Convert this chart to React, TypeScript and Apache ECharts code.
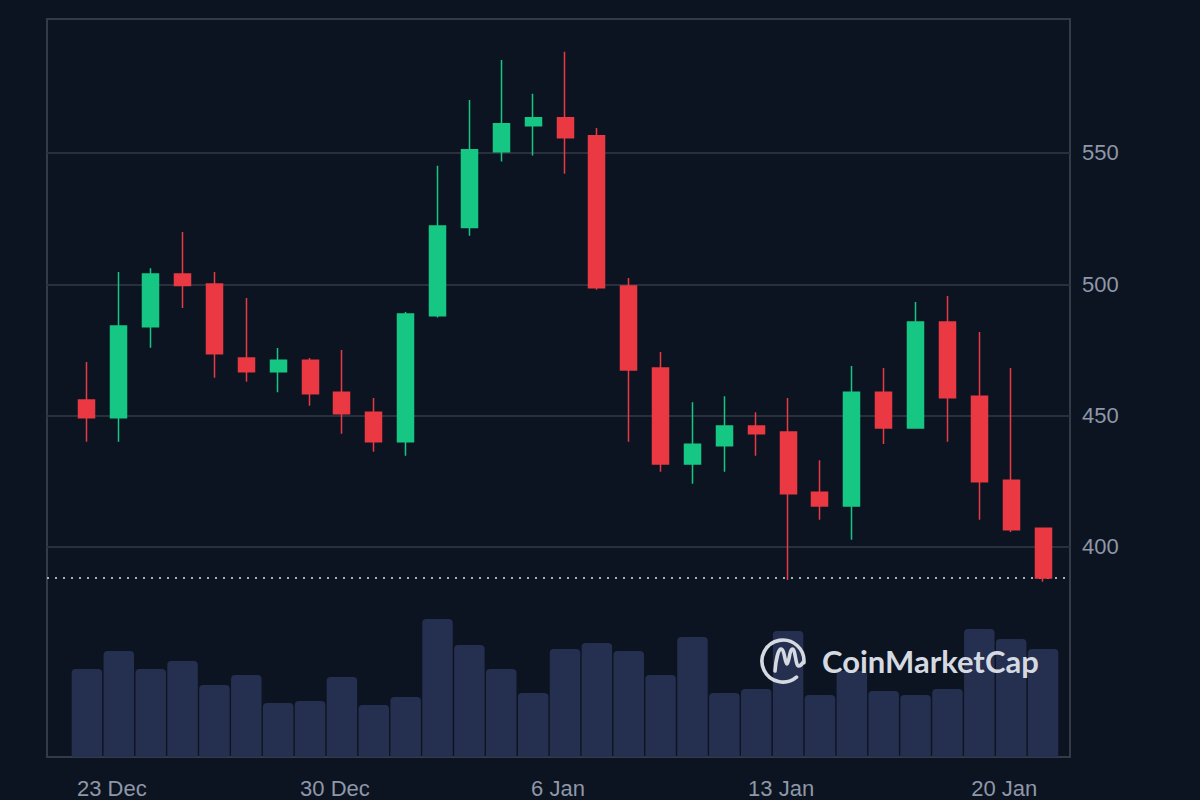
import React, { useEffect, useRef } from "react";
import * as echarts from "echarts";

// ---- data ----
const dates = [
  "22 Dec", "23 Dec", "24 Dec", "25 Dec", "26 Dec", "27 Dec", "28 Dec", "29 Dec", "30 Dec", "31 Dec",
  "1 Jan", "2 Jan", "3 Jan", "4 Jan", "5 Jan", "6 Jan", "7 Jan", "8 Jan", "9 Jan", "10 Jan",
  "11 Jan", "12 Jan", "13 Jan", "14 Jan", "15 Jan", "16 Jan", "17 Jan", "18 Jan", "19 Jan", "20 Jan", "21 Jan",
];
const opens = [
  455.9, 449.2, 483.8, 503.9, 500.1, 471.9, 466.7, 471.1, 458.9, 451.3,
  440.0, 488.0, 521.6, 550.5, 560.4, 563.4, 556.5, 499.3, 468.1, 431.6,
  438.5, 446.0, 443.7, 420.8, 415.6, 458.9, 445.3, 485.6, 457.4, 425.4, 407.1,
];
const closes = [
  449.2, 484.1, 503.9, 499.5, 473.5, 466.7, 471.1, 458.3, 450.7, 440.0,
  488.7, 522.2, 551.2, 561.1, 563.4, 555.8, 498.7, 467.4, 431.6, 439.1,
  446.0, 443.1, 420.2, 415.6, 458.9, 445.3, 485.6, 456.8, 424.8, 406.5, 388.2,
];
const lows = [
  440.0, 440.0, 475.8, 491.0, 464.4, 462.9, 458.9, 453.7, 443.1, 436.2,
  434.7, 487.3, 518.5, 546.7, 549.0, 542.1, 497.9, 440.0, 428.6, 424.0,
  428.6, 434.7, 387.4, 410.3, 402.7, 439.2, 445.3, 440.0, 410.3, 405.7, 386.7,
];
const highs = [
  470.4, 504.7, 506.1, 519.9, 504.7, 494.8, 475.7, 471.9, 475.0, 456.7,
  489.4, 545.1, 570.2, 585.4, 572.5, 588.5, 559.5, 502.4, 474.2, 455.1,
  457.4, 451.3, 456.7, 433.0, 468.9, 468.1, 493.2, 495.5, 481.8, 468.1, 407.1,
];
const volumes = [
  44, 53, 44, 48, 36, 41, 27, 28, 40, 26,
  30, 69, 56, 44, 32, 54, 57, 53, 41, 60,
  32, 34, 63, 31, 43, 33, 31, 34, 64, 59, 54,
];
const priceTicks = [400, 450, 500, 550];
const labelIndices = [1, 8, 15, 22, 29];

// ---- style ----
const BG = "#0b1420";
const GREEN = "#16c784";
const RED = "#ea3943";
const VOL = "#252f4f";
const FRAME = "#343b47";
const GRIDLINE = "#29303b";
const LABEL = "#8f97a8";
const LOGO = "#d5d9e1";
const FONT = "'Liberation Sans', Arial, Helvetica, sans-serif";

const LOGO_PATH =
  "M 13.5 16.1 A 21 21 0 1 1 20.9 1.8 " +
  "M -8 10 C -7 -2 -4.5 -12 -2 -12 C 1.5 -12 2 3 4 3 C 6 3 6.5 -12 9.5 -12 C 12.5 -12 12.5 5 15.5 5 C 18 5 19.5 2.5 20.9 0";

export default function App() {
  const ref = useRef<HTMLDivElement>(null);

  useEffect(() => {
    if (!ref.current) return;
    echarts.graphic.registerShape("cmcLogo", echarts.graphic.extendPath(LOGO_PATH, {}));
    const chart = echarts.init(ref.current, null, { renderer: "svg" });
    const lastClose = closes[closes.length - 1];
    const candleData = dates.map((_, i) => [opens[i], closes[i], lows[i], highs[i]]);

    const option: any = {
      animation: false,
      backgroundColor: BG,
      grid: [
        {
          left: 47, top: 19, width: 1023, height: 738,
          show: true, borderColor: FRAME, borderWidth: 2, backgroundColor: "transparent",
          containLabel: false, outerBoundsMode: "none", z: 0,
        },
        { left: 71, top: 19, width: 988, height: 738, containLabel: false, outerBoundsMode: "none" },
        { left: 71, top: 607, width: 988, height: 150, containLabel: false, outerBoundsMode: "none" },
      ],
      xAxis: [
        { gridIndex: 0, type: "value", min: 0, max: 1, show: false },
        {
          gridIndex: 1, type: "category", data: dates, boundaryGap: true,
          axisLine: { show: false }, axisTick: { show: false }, splitLine: { show: false },
          axisLabel: {
            interval: (i: number) => labelIndices.indexOf(i) >= 0,
            color: LABEL, fontSize: 22, fontFamily: FONT, margin: 20,
            padding: [0, 14, 0, 0], hideOverlap: false,
          },
        },
        { gridIndex: 2, type: "category", data: dates, boundaryGap: true, show: false },
      ],
      yAxis: [
        { gridIndex: 0, type: "value", min: 320, max: 601, show: false, splitLine: { show: false } },
        { gridIndex: 1, type: "value", min: 320, max: 601, show: false, splitLine: { show: false } },
        { gridIndex: 2, type: "value", min: 0, max: 75, show: false, splitLine: { show: false } },
      ],
      series: [
        {
          type: "line", xAxisIndex: 0, yAxisIndex: 0, data: [], silent: true, z: 0,
          markLine: {
            silent: true, symbol: ["none", "none"], animation: false, z: 0,
            data: [
              ...priceTicks.map((v) => ({
                yAxis: v,
                lineStyle: { color: GRIDLINE, width: 2, type: "solid" },
                label: {
                  show: true, position: "end", formatter: String(v),
                  color: LABEL, fontSize: 22, fontFamily: FONT, distance: 12,
                },
              })),
              {
                yAxis: lastClose,
                lineStyle: { color: "#aab0bb", width: 2, type: [2, 6] },
                label: { show: false },
              },
            ],
          },
        },
        {
          type: "bar", xAxisIndex: 2, yAxisIndex: 2, data: volumes, barWidth: 30.5, z: 2,
          itemStyle: { color: VOL, borderRadius: [4, 4, 0, 0] },
          silent: true,
        },
        {
          type: "candlestick", xAxisIndex: 1, yAxisIndex: 1, data: candleData, barWidth: 16.5, z: 3,
          itemStyle: { color: GREEN, color0: RED, borderColor: GREEN, borderColor0: RED, borderWidth: 1.5 },
          silent: true,
        },
      ],
      graphic: [
        {
          type: "cmcLogo", x: 783, y: 661, z: 100, silent: true,
          style: { fill: null, stroke: LOGO, lineWidth: 3.6, lineCap: "round" },
        },
        {
          type: "text", x: 822, y: 661, z: 100, silent: true,
          style: {
            text: "CoinMarketCap", font: "700 31px Lato", fill: LOGO,
            textAlign: "left", textVerticalAlign: "middle", align: "left", verticalAlign: "middle",
          },
        },
      ],
    };
    chart.setOption(option);
    return () => chart.dispose();
  }, []);

  return (
    <div
      ref={ref}
      style={{ position: "fixed", left: 0, top: 0, width: 1200, height: 800, background: BG }}
    />
  );
}
